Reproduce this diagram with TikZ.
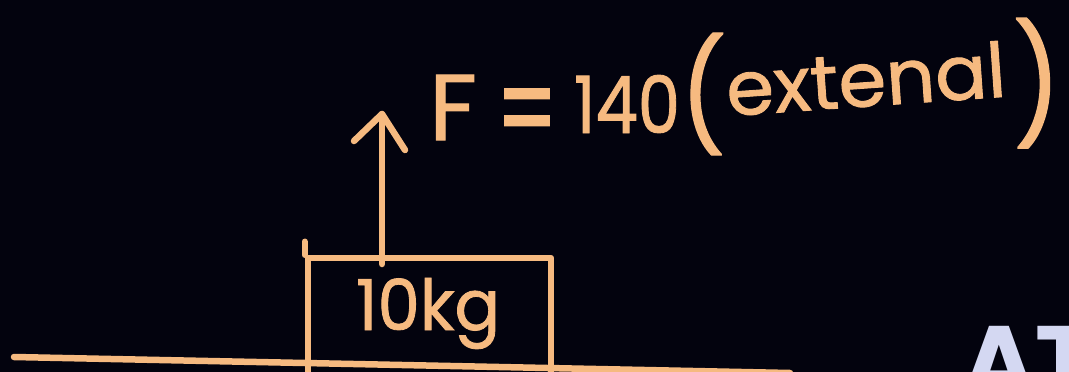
\documentclass[tikz,border=0pt]{standalone}
\usepackage{fontspec}
\setmainfont{Poppins}
\newfontfamily\handfont{Poppins}[FakeBold=1.2]
\definecolor{bgdark}{RGB}{3,3,14}
\definecolor{chalk}{RGB}{246,186,128}
\definecolor{lavender}{RGB}{212,216,242}
\tikzset{
  pen/.style={draw=chalk, line width=6.5pt, line cap=round, line join=round},
  hand/.style={text=chalk, inner sep=0pt, outer sep=0pt, font=\handfont},
}
\begin{document}
\begin{tikzpicture}[x=1pt,y=-1pt]
\useasboundingbox (0,0) rectangle (1069,372);
\fill[bgdark] (0,0) rectangle (1069,372);
\clip (0,0) rectangle (1069,372);
% ground line
\coordinate (g1) at (14,357);
\coordinate (g2) at (790,373);
\draw[pen] (g1) -- (g2);
% block
\node (box) [pen, rectangle, minimum width=243pt, minimum height=142pt, inner sep=0pt] at (429.5,329) {};
\draw[pen] (box.north west) -- ++(0,-13);
\node (mass) [hand, anchor=base west] at (356,330) {\resizebox{144pt}{52pt}{10kg}};
% force arrow
\coordinate (foot) at (382,264);
\coordinate (tip) at (382,114);
\coordinate (hl) at (354,141);
\coordinate (hr) at (405,150);
\draw[pen] (foot) -- (tip);
\draw[pen] (hl) -- (tip) -- (hr);
% label
\node (F) [hand, anchor=base west] at (429,140) {\resizebox{48pt}{65pt}{F}};
\node (eq) [hand] at (527,121) {\resizebox{62pt}{64pt}{=}};
\node (num) [hand, anchor=base west] at (574,133) {\resizebox{106pt}{58pt}{140}};
\node (lp) [hand, anchor=south west] at (680,155) {\resizebox*{46pt}{122pt}{(}};
\node (ext) [hand, anchor=base west, rotate=4] at (728,116) {\resizebox{280pt}{56pt}{extenal}};
\node (rp) [hand, anchor=north west] at (1013,18) {\resizebox*{48pt}{130pt}{)}};
% watermark
\node (wm) [text=lavender, inner sep=0pt, anchor=base west] at (962,396) {\fontsize{100}{100}\selectfont\bfseries AT};
\end{tikzpicture}
\end{document}
